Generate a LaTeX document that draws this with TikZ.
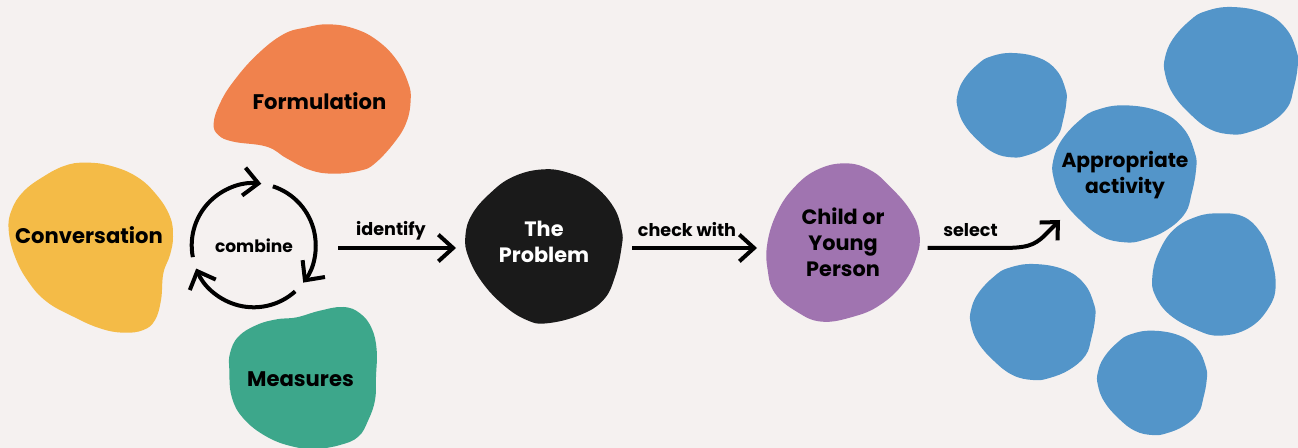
\documentclass[tikz,border=0pt]{standalone}
\usepackage{fontspec}
\setmainfont{Poppins}
\usetikzlibrary{arrows.meta,calc}
\definecolor{bgc}{HTML}{F5F1F0}
\definecolor{orangeb}{HTML}{F0824D}
\definecolor{yellowb}{HTML}{F4BB47}
\definecolor{greenb}{HTML}{3DA78B}
\definecolor{blackb}{HTML}{1A1A1A}
\definecolor{purpleb}{HTML}{A074B0}
\definecolor{blueb}{HTML}{5395C9}
\newcommand{\blobtemplate}{(615,316)(720,335)(790,385)(825,460)(828,510)(815,580)(795,640)(740,690)(670,720)(615,727)(545,710)(480,660)(425,595)(400,530)(400,480)(425,420)(480,360)(530,330)}
\tikzset{
  blob/.style={smooth cycle,tension=0.7},
  bigtext/.style={font=\fontsize{15.85pt}{19.5pt}\selectfont\bfseries,align=center,text=black,inner sep=0pt},
  midtext/.style={font=\fontsize{15.6pt}{19.5pt}\selectfont\bfseries,align=center,inner sep=0pt},
  apptext/.style={font=\fontsize{15.2pt}{19.5pt}\selectfont\bfseries,align=center,text=black,inner sep=0pt},
  smalltext/.style={font=\fontsize{13.2pt}{14pt}\selectfont\bfseries,text=black,inner sep=0pt},
  flow/.style={line width=3.5pt,-{Straight Barb[length=11pt,width=20pt,line width=3pt]}},
  bendflow/.style={line width=3pt,-{Straight Barb[length=10pt,width=19pt,line width=3pt]}},
  cyc/.style={line width=3pt,-{Straight Barb[length=11pt,width=21pt,line width=3pt]}},
  zoomA/.style={x=0.25pt,y=-0.25pt},
}
\begin{document}
\begin{tikzpicture}[x=0.75pt,y=-0.75pt]
\fill[bgc] (0,0) rectangle (1298,448);
\useasboundingbox (0,0) rectangle (1298,448);
% left blobs (coordinates in 3x crop space)
\begin{scope}[zoomA]
\fill[orangeb] plot[blob] coordinates {(985,73)(1060,85)(1130,120)(1190,180)(1225,250)(1232,300)(1220,365)(1185,425)(1125,490)(1080,512)(1000,521)(930,510)(860,475)(800,440)(700,425)(655,405)(641,370)(660,310)(700,245)(770,165)(850,103)(920,82)};
\fill[yellowb] plot[blob] coordinates {(255,488)(330,497)(410,530)(470,585)(510,650)(519,710)(510,765)(490,820)(483,900)(465,960)(430,990)(370,998)(300,985)(220,950)(140,905)(85,845)(45,770)(26,690)(35,630)(70,575)(130,530)(195,497)};
\fill[greenb] plot[blob] coordinates {(1030,921)(1080,940)(1115,985)(1130,1050)(1128,1130)(1125,1200)(1105,1260)(1075,1310)(1020,1335)(950,1346)(880,1340)(800,1310)(730,1255)(695,1190)(688,1110)(690,1060)(715,1010)(770,975)(830,958)(890,952)(960,932)};
\end{scope}
\begin{scope}[shift={(440,140)},zoomA]
\fill[blackb] plot[blob] coordinates {(310,88)(390,100)(460,135)(520,200)(545,270)(545,320)(525,410)(490,480)(420,525)(320,550)(260,540)(190,495)(125,425)(85,350)(76,290)(95,225)(150,160)(220,110)};
\fill[purpleb] plot[blob] coordinates {(1215,70)(1290,90)(1350,140)(1410,210)(1438,280)(1430,350)(1390,430)(1320,495)(1240,530)(1145,545)(1070,515)(1005,460)(983,390)(982,310)(1010,220)(1060,145)(1130,90)};
\end{scope}
% blue blobs
\begin{scope}[shift={(920,0)},zoomA]
\fill[blueb] plot[blob] coordinates {\blobtemplate};
\fill[blueb] plot[blob] coordinates {(900,640)(970,650)(1020,695)(1050,760)(1067,855)(1045,925)(985,985)(900,1007)(830,990)(750,945)(705,885)(697,830)(715,760)(760,690)(830,650)};
\begin{scope}[shift={(733,21)},xscale=0.93,yscale=0.93,shift={(-398,-316)}]
\fill[blueb] plot[blob] coordinates {\blobtemplate};
\end{scope}
\begin{scope}[shift={(111,159)},xscale=0.763,yscale=0.762,shift={(-398,-316)}]
\fill[blueb] plot[blob] coordinates {\blobtemplate};
\end{scope}
\begin{scope}[shift={(151,792)},xscale=0.87,yscale=0.847,shift={(-398,-316)}]
\fill[blueb] plot[blob] coordinates {\blobtemplate};
\end{scope}
\begin{scope}[shift={(532,992)},xscale=0.763,yscale=0.762,shift={(-398,-316)}]
\fill[blueb] plot[blob] coordinates {\blobtemplate};
\end{scope}
\end{scope}
% labels
\node[bigtext] (formulation) at (319.5,101) {Formulation};
\node[bigtext] (conversation) at (89,235.5) {Conversation};
\node[bigtext] (measures) at (300.5,379) {Measures};
\node[smalltext,font=\fontsize{12.8pt}{14pt}\selectfont\bfseries] (combine) at (254,246) {combine};
\node[midtext,text=white] (problem) at (544,242) {The\\Problem};
\node[midtext,text=black] (child) at (843,242) {Child or\\Young\\Person};
\node[apptext] (activity) at (1125,175.5) {Appropriate\\activity};
\node[smalltext] (identify) at (391,231) {identify};
\node[smalltext] (checkwith) at (687,230) {check with};
\node[smalltext] (selectlab) at (970.5,230) {select};
% connector ends
\coordinate (ring) at (253.7,245.3);
\coordinate (identifyFrom) at (338,248);
\coordinate (identifyTo) at (456,248);
\coordinate (checkFrom) at (632,248);
\coordinate (checkTo) at (757,248);
\coordinate (selectFrom) at (927.5,248);
\coordinate (selectBendA) at (1026,248);
\coordinate (selectBendB) at (1034,246);
\coordinate (selectMid) at (1045,235);
\coordinate (selectTo) at (1060,220);
\draw[flow] (identifyFrom) -- (identifyTo);
\draw[flow] (checkFrom) -- (checkTo);
\draw[bendflow] (selectFrom) -- (1000,248) .. controls (selectBendA) and (selectBendB) .. (selectMid) -- (selectTo);
\draw[cyc] ([shift={(191:46.5pt)}]ring) arc[start angle=191,end angle=83,radius=46.5pt];
\draw[cyc] ([shift={(72:46.5pt)}]ring) arc[start angle=72,end angle=-37,radius=46.5pt];
\draw[cyc] ([shift={(-48:46.5pt)}]ring) arc[start angle=-48,end angle=-158,radius=46.5pt];
\end{tikzpicture}
\end{document}
